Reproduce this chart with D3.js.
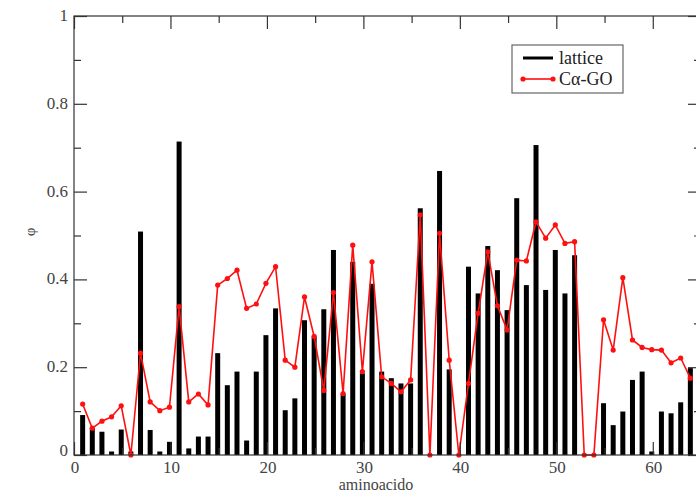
<html lang="en">
	<head>
		<meta charset="utf-8">
		<title>lattice vs C-alpha GO</title>
		<script type="text/javascript" src="https://cdn.jsdelivr.net/npm/d3@7"></script>
		<style type="text/css">
		body{margin:0;background:#fff;}
		</style>
	</head>
	<body>
		<script type="text/javascript">

			//Data
			var residues = d3.range(1, 65);
			var lattice = [0.091, 0.061, 0.053, 0.008, 0.058, 0.008, 0.509, 0.057, 0.008, 0.03,
			               0.714, 0.015, 0.042, 0.042, 0.232, 0.159, 0.19, 0.033, 0.19, 0.273,
			               0.334, 0.102, 0.129, 0.307, 0.27, 0.332, 0.467, 0.14, 0.44, 0.186,
			               0.39, 0.19, 0.175, 0.163, 0.163, 0.562, 0, 0.647, 0.195, 0,
			               0.429, 0.368, 0.476, 0.421, 0.33, 0.585, 0.387, 0.706, 0.376, 0.467,
			               0.368, 0.455, 0, 0, 0.118, 0.068, 0.099, 0.171, 0.19, 0.008,
			               0.099, 0.095, 0.12, 0.198];
			var caGO = [0.116, 0.061, 0.077, 0.087, 0.112, 0, 0.232, 0.121, 0.101, 0.109,
			            0.338, 0.121, 0.139, 0.114, 0.387, 0.402, 0.421, 0.334, 0.344, 0.391,
			            0.429, 0.216, 0.2, 0.36, 0.27, 0.147, 0.37, 0.14, 0.478, 0.19,
			            0.44, 0.178, 0.163, 0.144, 0.171, 0.547, 0, 0.505, 0.216, 0,
			            0.163, 0.323, 0.463, 0.34, 0.285, 0.444, 0.442, 0.531, 0.494, 0.524,
			            0.482, 0.486, 0, 0, 0.308, 0.239, 0.404, 0.262, 0.245, 0.24,
			            0.239, 0.21, 0.221, 0.175];
			var xTicks = [0, 10, 20, 30, 40, 50, 60];
			var yTicks = [0, 0.2, 0.4, 0.6, 0.8, 1];
			var seriesNames = ["lattice", "C\u03b1-GO"];

			//Width and height
			var w = 696;
			var h = 495;
			var serif = "'Liberation Serif', 'Times New Roman', Times, 'DejaVu Serif', serif";

			var xScale = d3.scaleLinear()
							.domain([0, 65])
							.range([74, 701]);

			var yScale = d3.scaleLinear()
							.domain([0, 1])
							.range([455, 16]);

			var svg = d3.select("body")
						.append("svg")
						.attr("width", w)
						.attr("height", h)
						.attr("font-family", serif);

			//Create bars
			var barW = 5;
			svg.selectAll("rect.bar")
			   .data(lattice)
			   .enter()
			   .append("rect")
			   .attr("class", "bar")
			   .attr("x", function(d, i) {
			   		return xScale(residues[i]) - barW / 2 - 1;
			   })
			   .attr("y", function(d) {
			   		return yScale(d);
			   })
			   .attr("width", barW)
			   .attr("height", function(d) {
			   		return yScale(0) - yScale(d);
			   })
			   .attr("fill", "black");

			//Red line with markers
			var line = d3.line()
						.x(function(d, i) { return xScale(residues[i]) - 1; })
						.y(function(d) { return yScale(d); });

			svg.append("path")
			   .datum(caGO)
			   .attr("d", line)
			   .attr("fill", "none")
			   .attr("stroke", "#ff1010")
			   .attr("stroke-width", 1.6);

			svg.selectAll("circle.pt")
			   .data(caGO)
			   .enter()
			   .append("circle")
			   .attr("class", "pt")
			   .attr("cx", function(d, i) { return xScale(residues[i]) - 1; })
			   .attr("cy", function(d) { return yScale(d); })
			   .attr("r", 2.6)
			   .attr("fill", "#ff1010");

			//Frame
			svg.append("rect")
			   .attr("x", xScale(0))
			   .attr("y", yScale(1))
			   .attr("width", xScale(65) - xScale(0))
			   .attr("height", yScale(0) - yScale(1))
			   .attr("fill", "none")
			   .attr("stroke", "#333")
			   .attr("stroke-width", 1.2);

			//Inward ticks on all four sides
			var xMinor = d3.range(5, 65, 10);
			var yMinor = d3.range(0.1, 1, 0.2);
			function addTicks(axis, tv, size, tr) {
				svg.append("g")
				   .attr("transform", tr)
				   .call(axis.tickValues(tv).tickSize(size).tickFormat(""))
				   .call(function(g) {
				   		g.select(".domain").remove();
				   		g.selectAll("line").attr("stroke", "#333").attr("stroke-width", 1.2);
				   });
			}
			addTicks(d3.axisBottom(xScale), xTicks, -13, "translate(0," + yScale(0) + ")");
			addTicks(d3.axisBottom(xScale), xMinor, -7, "translate(0," + yScale(0) + ")");
			addTicks(d3.axisTop(xScale), xTicks, -13, "translate(0," + yScale(1) + ")");
			addTicks(d3.axisTop(xScale), xMinor, -7, "translate(0," + yScale(1) + ")");
			addTicks(d3.axisLeft(yScale), yTicks, -13, "translate(" + xScale(0) + ",0)");
			addTicks(d3.axisLeft(yScale), yMinor, -7, "translate(" + xScale(0) + ",0)");
			addTicks(d3.axisRight(yScale), yTicks, -13, "translate(" + xScale(65) + ",0)");
			addTicks(d3.axisRight(yScale), yMinor, -7, "translate(" + xScale(65) + ",0)");

			//Tick labels
			svg.selectAll("text.xl")
			   .data(xTicks)
			   .enter()
			   .append("text")
			   .attr("class", "xl")
			   .attr("x", function(d) { return xScale(d) + 1; })
			   .attr("y", 473)
			   .attr("text-anchor", "middle")
			   .attr("font-size", "17px")
			   .attr("fill", "#444")
			   .text(function(d) { return d; });

			svg.selectAll("text.yl")
			   .data(yTicks)
			   .enter()
			   .append("text")
			   .attr("class", "yl")
			   .attr("x", 68)
			   .attr("y", function(d) { return yScale(d) + 5 - (d === 0 ? 4 : 0); })
			   .attr("text-anchor", "end")
			   .attr("font-size", "17px")
			   .attr("fill", "#444")
			   .text(function(d) { return d; });

			//Axis titles
			svg.append("text")
			   .attr("x", 376)
			   .attr("y", 490)
			   .attr("text-anchor", "middle")
			   .attr("font-size", "16px")
			   .attr("fill", "#444")
			   .text("aminoacido");

			svg.append("text")
			   .attr("transform", "translate(35,232) rotate(-90)")
			   .attr("text-anchor", "middle")
			   .attr("font-size", "15px")
			   .attr("fill", "#444")
			   .text("\u03c6");

			//Legend
			var lg = svg.append("g").attr("transform", "translate(512,45)");
			lg.append("rect")
			  .attr("width", 111)
			  .attr("height", 48)
			  .attr("fill", "white")
			  .attr("stroke", "#666")
			  .attr("stroke-width", 1.2);
			lg.append("line")
			  .attr("x1", 11).attr("x2", 41).attr("y1", 13).attr("y2", 13)
			  .attr("stroke", "black").attr("stroke-width", 3);
			lg.append("line")
			  .attr("x1", 11).attr("x2", 41).attr("y1", 34).attr("y2", 34)
			  .attr("stroke", "#ff1010").attr("stroke-width", 1.6);
			lg.selectAll("circle")
			  .data([11, 41])
			  .enter()
			  .append("circle")
			  .attr("cx", function(d) { return d; })
			  .attr("cy", 34)
			  .attr("r", 2.6)
			  .attr("fill", "#ff1010");
			lg.selectAll("text")
			  .data(seriesNames)
			  .enter()
			  .append("text")
			  .attr("x", 47)
			  .attr("y", function(d, i) { return 19 + i * 21; })
			  .attr("font-size", "18px")
			  .attr("fill", "#222")
			  .text(function(d) { return d; });
		</script>
	</body>
</html>
